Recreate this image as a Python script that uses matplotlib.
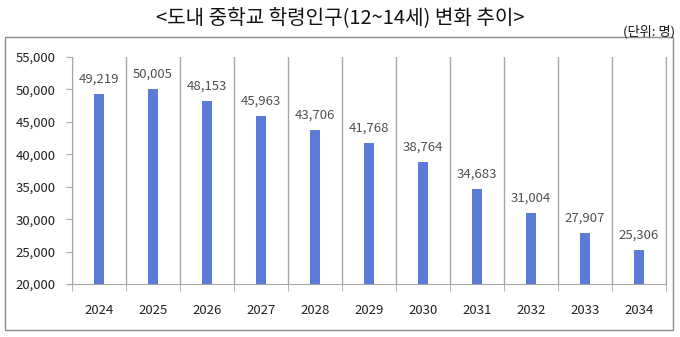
import matplotlib
matplotlib.use('Agg')
import matplotlib.pyplot as plt
from matplotlib.patches import Rectangle
import numpy as np

plt.rcParams['font.family'] = ['Noto Sans CJK KR', 'DejaVu Sans']

# 연도별 중학교 학령인구
years = ['2024', '2025', '2026', '2027', '2028', '2029', '2030', '2031', '2032', '2033', '2034']
population = [49219, 50005, 48153, 45963, 43706, 41768, 38764, 34683, 31004, 27907, 25306]
yticks = [20000, 25000, 30000, 35000, 40000, 45000, 50000, 55000]

fig = plt.figure(figsize=(6.8, 3.37), dpi=100)
fig.patch.set_facecolor('white')

# 바깥 테두리
fig.patches.append(Rectangle((0.0074, 0.021), 0.982, 0.869, transform=fig.transFigure,
                             fill=False, edgecolor='#8c8c8c', linewidth=1.0))

fig.text(0.5, 0.948, '<도내 중학교 학령인구(12~14세) 변화 추이>', ha='center', va='center',
         fontsize=14.5, color='#111111')
fig.text(0.993, 0.905, '(단위: 명)', ha='right', va='center', fontsize=9.5, color='#111111')

ax = fig.add_axes([0.106, 0.157, 0.873, 0.674])
x = np.arange(len(years))
ax.bar(x, population, width=0.19, color='#5A7BD7', zorder=3, bottom=0)
ax.set_ylim(20000, 55000)
ax.set_xlim(-0.5, len(years) - 0.5)

for xi, v in zip(x, population):
    ax.text(xi, v + 1300, f'{v:,}', ha='center', va='bottom', fontsize=9.5, color='#505050')

# 항목 경계 세로선
for b in np.arange(-0.5, len(years), 1.0):
    ax.axvline(b, color='#a6a6a6', linewidth=1.0, zorder=1)

ax.set_yticks(yticks)
ax.set_yticklabels([f'{t:,}' for t in yticks], fontsize=9.5, color='#222222')
ax.set_xticks(x)
ax.set_xticklabels(years, fontsize=9.5, color='#222222')
ax.tick_params(axis='x', length=0, pad=14)
ax.tick_params(axis='y', length=4, color='#a6a6a6', pad=8)

# 아래쪽 눈금 (경계 위치)
ax.set_xticks(np.arange(-0.5, len(years), 1.0), minor=True)
ax.tick_params(axis='x', which='minor', length=5, color='#a6a6a6')

for s in ['top']:
    ax.spines[s].set_visible(False)
for s in ['left', 'right', 'bottom']:
    ax.spines[s].set_color('#a6a6a6')

fig.savefig('out.png', dpi=100)
